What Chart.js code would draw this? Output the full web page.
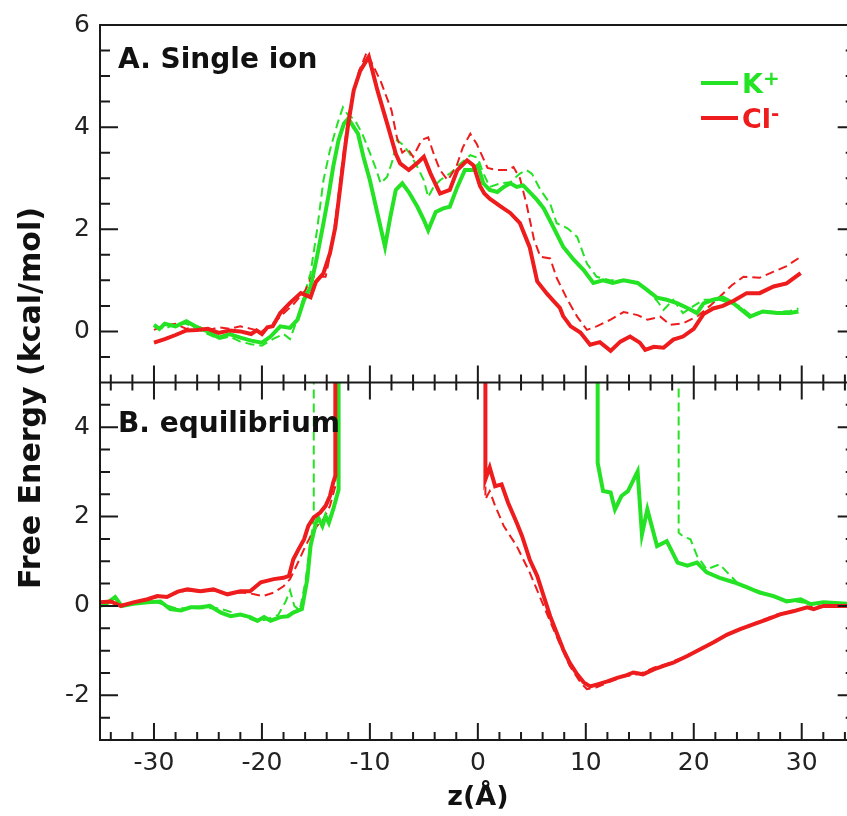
<!DOCTYPE html>
<html>
<head>
<meta charset="utf-8">
<script src="https://cdn.jsdelivr.net/npm/chart.js@4.4.0/dist/chart.umd.min.js"></script>
<style>
  html, body { margin: 0; padding: 0; background: #fff; overflow: hidden; }
  #wrap { width: 847px; height: 816px; overflow: hidden; }
</style>
</head>
<body>
<div id="wrap"><canvas id="chart" width="870" height="816"></canvas></div>
<script>
// shared z axis (Å)
const zMin = -35, zMax = 35;
const zTicks = [-30, -20, -10, 0, 10, 20, 30];

// panel A (single ion) and panel B (equilibrium) energy axes
const aMin = -1, aMax = 6;
const aTicks = [0, 2, 4, 6];
const bMin = -3, bMax = 5;
const bTicks = [-2, 0, 2, 4];

const panelA = 'A. Single ion';
const panelB = 'B. equilibrium';
const yTitle = 'Free Energy (kcal/mol)';
const xTitle = 'z(Å)';

const GREEN = 'rgb(36,226,36)';
const RED = 'rgb(238,28,28)';

// --- panel A: single ion ---
const aClSolidZ = [-30, -29, -28, -27, -26, -25, -24, -23, -22, -21, -20.5, -20, -19.5, -19, -18.3, -17.4, -16.4, -15.5, -15, -14.3, -13.7, -13.2, -12.7, -12.3, -12, -11.5, -10.9, -10.1, -9.3, -8.4, -7.6, -7.2, -6.4, -5.6, -5, -4.4, -3.8, -3.5, -2.6, -1.9, -1, -0.4, 0.2, 0.6, 1.1, 2.1, 3, 3.9, 4.8, 5.5, 6.4, 7, 7.6, 7.9, 8.6, 9.5, 10.4, 11.3, 12.3, 13.2, 14.1, 15, 15.5, 16.3, 17.2, 18.1, 19, 20, 20.9, 21.8, 22.7, 23.7, 24.9, 26.1, 27.4, 28.6, 29.9];
const aClSolidE = [-0.22, -0.15, -0.07, 0.02, 0.03, 0.05, -0.03, 0.02, 0, -0.05, 0.02, -0.05, 0.08, 0.1, 0.36, 0.56, 0.75, 0.67, 0.97, 1.14, 1.53, 2.04, 2.9, 3.6, 4.07, 4.72, 5.1, 5.38, 4.72, 4.07, 3.48, 3.29, 3.16, 3.3, 3.42, 3.1, 2.83, 2.7, 2.77, 3.16, 3.35, 3.25, 2.85, 2.7, 2.6, 2.45, 2.32, 2.12, 1.65, 0.98, 0.74, 0.6, 0.46, 0.3, 0.1, -0.02, -0.26, -0.21, -0.38, -0.2, -0.1, -0.22, -0.36, -0.3, -0.32, -0.16, -0.1, 0.05, 0.34, 0.45, 0.5, 0.6, 0.75, 0.75, 0.88, 0.94, 1.14];

const aClDashZ = [-30, -29, -28, -27, -26, -25, -24, -23, -22, -21, -20, -19, -18, -17, -16, -15.4, -14.1, -13.5, -13, -12.5, -12, -11.5, -11, -10.3, -9, -8, -7.5, -7, -6.5, -6, -5.2, -4.6, -4, -3.5, -2.8, -2, -1.4, -0.7, -0.1, 0.9, 1.8, 2.7, 3.3, 3.9, 4.5, 5.2, 5.8, 6.7, 7.3, 8.3, 9.2, 10.1, 11, 12.3, 13.5, 14.8, 15.7, 16.9, 17.8, 19, 20.3, 21.5, 22.5, 23.5, 24.6, 26.1, 27.4, 28.6, 29.9];
const aClDashE = [0.03, 0.12, 0.15, 0.05, 0.1, 0.02, 0.08, 0.05, 0.1, 0.05, 0, 0.15, 0.35, 0.55, 0.8, 1.07, 1.07, 1.7, 2.5, 3.4, 4.2, 4.7, 5.1, 5.46, 4.9, 4.33, 3.8, 3.5, 3.58, 3.42, 3.75, 3.8, 3.42, 3.16, 2.96, 3.22, 3.6, 3.87, 3.67, 3.2, 3.16, 3.16, 3.22, 3.0, 2.5, 1.8, 1.46, 1.43, 1.05, 0.62, 0.29, 0.03, 0.1, 0.23, 0.38, 0.32, 0.23, 0.29, 0.13, 0.16, 0.29, 0.5, 0.7, 0.9, 1.07, 1.05, 1.17, 1.28, 1.46];

const aKSolidZ = [-30, -29.5, -29, -28, -27, -26, -25, -24, -23, -22, -21, -20, -19.2, -18.3, -17.4, -16.7, -16.1, -15.5, -14.9, -14.3, -13.8, -13.4, -12.9, -12.4, -12, -11.5, -11.1, -10.6, -10, -9.3, -8.6, -8.1, -7.6, -7, -6.4, -5.6, -5, -4.6, -3.9, -3.2, -2.6, -1.9, -1.2, -0.5, 0, 0.5, 1.1, 1.8, 2.4, 3, 3.6, 4.2, 4.8, 5.5, 6.1, 7, 7.9, 8.9, 9.8, 10.7, 11.6, 12.5, 13.5, 14.8, 15.7, 16.6, 17.5, 18.5, 19.4, 20.3, 20.9, 21.8, 22.7, 23.7, 25.2, 26.4, 27.7, 28.9, 29.7];
const aKSolidE = [0.13, 0.05, 0.15, 0.1, 0.2, 0.08, 0, -0.12, -0.05, -0.12, -0.18, -0.22, -0.1, 0.1, 0.07, 0.23, 0.62, 0.87, 1.46, 2.12, 2.7, 3.22, 3.75, 4.07, 4.17, 4.0, 3.87, 3.42, 2.96, 2.31, 1.66, 2.25, 2.77, 2.9, 2.73, 2.44, 2.18, 1.98, 2.34, 2.41, 2.44, 2.83, 3.16, 3.16, 3.25, 2.9, 2.77, 2.73, 2.83, 2.9, 2.83, 2.86, 2.73, 2.57, 2.41, 2.04, 1.66, 1.4, 1.2, 0.95, 1.0, 0.95, 1.0, 0.95, 0.81, 0.66, 0.62, 0.55, 0.46, 0.36, 0.55, 0.62, 0.66, 0.55, 0.29, 0.39, 0.36, 0.36, 0.39];

const aKDashZ = [-30, -29, -28, -27, -26, -25, -24, -23, -22, -21, -20, -19, -18, -17.4, -16.8, -16.1, -15.5, -14.9, -14.3, -13.7, -13, -12.5, -12.1, -11.4, -10.7, -10.1, -9.5, -9, -8.4, -7.9, -7.5, -6.9, -6.3, -5.6, -5, -4.6, -4.1, -3.5, -2.6, -1.6, -0.7, 0, 0.5, 1.1, 2.1, 3, 3.9, 4.5, 5, 5.8, 6.7, 7.3, 8.3, 9.2, 10.1, 11, 12.3, 13.5, 14.8, 15.7, 16.6, 17.2, 18.1, 19, 20, 20.9, 22.4, 24.3, 25.2, 26.5, 27.7, 28.9, 29.7];
const aKDashE = [0.1, 0.05, 0.15, 0.15, 0.05, -0.05, -0.15, -0.1, -0.2, -0.25, -0.28, -0.15, -0.05, -0.15, 0.2, 0.7, 1.14, 1.98, 2.96, 3.55, 4.07, 4.39, 4.26, 4.14, 3.87, 3.55, 3.22, 2.9, 3.03, 3.35, 3.75, 3.65, 3.48, 3.22, 2.96, 2.63, 2.83, 2.96, 3.09, 3.29, 3.45, 3.4, 3.1, 2.83, 2.9, 2.92, 3.09, 3.16, 3.09, 2.77, 2.5, 2.12, 2.02, 1.85, 1.33, 1.07, 1.0, 1.0, 0.95, 0.8, 0.6, 0.42, 0.62, 0.36, 0.5, 0.62, 0.62, 0.49, 0.33, 0.4, 0.38, 0.4, 0.45];

// --- panel B: equilibrium (8 = off the top of the panel, null = gap) ---
const bClSolidZ = [-35, -34, -33.1, -31.9, -30.6, -29.7, -28.8, -27.8, -26.9, -25.7, -24.5, -23.2, -22, -21.1, -20.1, -18.9, -18, -17.5, -17.1, -16.6, -16.1, -15.7, -15.2, -14.6, -14.1, -13.7, -13.4, -13.2, -13.2, -6, 0.7, 0.7, 1.1, 1.6, 2.2, 2.8, 3.6, 4.1, 4.8, 5.5, 6.1, 6.7, 7.3, 7.9, 8.5, 9.2, 9.8, 10.4, 11, 12, 12.9, 13.8, 14.4, 15.3, 16.3, 17.2, 18.1, 19.4, 20.6, 21.8, 23.1, 24.3, 25.5, 26.8, 28, 29.2, 30.5, 31.1, 32, 35];
const bClSolidE = [0.08, 0.1, 0, 0.08, 0.15, 0.22, 0.2, 0.32, 0.37, 0.33, 0.37, 0.26, 0.33, 0.33, 0.53, 0.6, 0.63, 0.67, 1.04, 1.27, 1.49, 1.79, 1.98, 2.09, 2.24, 2.46, 2.76, 2.91, 8, null, 8, 2.83, 3.1, 2.68, 2.72, 2.31, 1.86, 1.56, 1.04, 0.67, 0.22, -0.23, -0.6, -0.97, -1.27, -1.53, -1.71, -1.8, -1.76, -1.69, -1.61, -1.55, -1.49, -1.53, -1.42, -1.34, -1.27, -1.12, -0.97, -0.82, -0.64, -0.52, -0.41, -0.3, -0.19, -0.12, -0.03, -0.07, 0, 0];

const bClDashZ = [-35, -34, -33.1, -31.9, -30.6, -29.7, -28.8, -27.8, -26.9, -25.7, -24.5, -23.2, -22, -21.1, -20.5, -19.9, -18.9, -18, -17.4, -16.8, -16.1, -15.5, -14.9, -14.3, -13.7, -13.2, -13.2, -6, 0.7, 0.7, 1.1, 1.6, 2.4, 3.6, 4.8, 6.1, 7, 8.5, 9.5, 10.1, 11, 12, 13.5, 15, 16.3, 17.5, 19, 20.6, 22, 23.5, 25, 26.5, 27.7, 29, 30.5, 32, 35];
const bClDashE = [0.06, 0.08, 0.02, 0.06, 0.14, 0.2, 0.22, 0.3, 0.35, 0.32, 0.35, 0.27, 0.3, 0.28, 0.25, 0.22, 0.3, 0.44, 0.6, 0.9, 1.27, 1.56, 1.79, 1.94, 2.24, 2.68, 8, null, 8, 2.39, 2.57, 2.24, 1.79, 1.34, 0.75, 0, -0.52, -1.34, -1.71, -1.86, -1.82, -1.72, -1.58, -1.52, -1.38, -1.3, -1.15, -0.97, -0.8, -0.6, -0.45, -0.3, -0.19, -0.12, -0.03, 0, 0];

const bKSolidZ = [-35, -34.4, -33.6, -33, -31.9, -30.6, -29.4, -28.5, -27.5, -26.6, -25.7, -24.8, -23.8, -22.9, -22, -21.1, -20.4, -19.8, -19.2, -18.3, -17.6, -17.1, -16.3, -15.8, -15.5, -15, -14.8, -14.4, -14.1, -13.8, -13.4, -12.9, -12.9, 0, 11.1, 11.1, 11.6, 12.3, 12.7, 13.3, 13.9, 14.8, 15.2, 15.7, 16.6, 17.5, 18.5, 19.4, 20.3, 21.2, 22.4, 23.7, 24.9, 26.1, 27.4, 28.6, 29.9, 30.8, 32, 35];
const bKSolidE = [0, 0.05, 0.2, 0, 0.05, 0.08, 0.1, -0.07, -0.1, -0.03, -0.03, 0, -0.15, -0.23, -0.19, -0.25, -0.33, -0.25, -0.33, -0.25, -0.23, -0.15, -0.07, 0.6, 1.34, 1.86, 1.98, 1.79, 2.01, 1.86, 2.16, 2.6, 8, null, 8, 3.2, 2.57, 2.54, 2.16, 2.46, 2.57, 3.01, 1.6, 2.16, 1.34, 1.45, 0.97, 0.9, 0.97, 0.75, 0.63, 0.53, 0.42, 0.3, 0.22, 0.1, 0.15, 0.04, 0.08, 0.04];

const bKDashZ = [-35, -34, -33, -32, -30, -28, -26, -24, -22, -20.5, -19.5, -18.5, -17.8, -17.4, -17, -16.5, -16, -15.5, -15.2, -15.2, 0, 18.6, 18.6, 19, 19.7, 20.3, 21.2, 22.4, 23.1, 24.3, 25.5, 26.8, 28, 29.5, 30.8, 32, 35];
const bKDashE = [0.02, 0.1, 0, 0.05, 0.1, -0.05, -0.05, -0.05, -0.2, -0.35, -0.3, -0.2, 0.1, 0.35, 0, -0.1, 0.5, 1.4, 1.95, 8, null, 8, 1.64, 1.56, 1.49, 1.12, 0.82, 0.93, 0.75, 0.45, 0.38, 0.25, 0.15, 0.1, 0.05, 0.05, 0.04];

function pts(z, e) {
    return z.map((v, i) => ({ x: v, y: e[i] }));
}

function line(data, axis, color, dashed, order) {
    return {
        data: data,
        yAxisID: axis,
        borderColor: color,
        borderWidth: dashed ? 2 : 4,
        borderDash: dashed ? [9, 5] : [],
        pointRadius: 0,
        tension: 0,
        fill: false,
        spanGaps: false,
        order: order
    };
}

// keep each panel's curves inside its own panel
const panelClip = {
    id: 'panelClip',
    beforeDatasetDraw(chart, args) {
        const m = args.meta;
        const ctx = chart.ctx;
        ctx.save();
        ctx.beginPath();
        ctx.rect(m.xScale.left, m.yScale.top, m.xScale.right - m.xScale.left, m.yScale.bottom - m.yScale.top);
        ctx.clip();
    },
    afterDatasetDraw(chart) {
        chart.ctx.restore();
    }
};

// frame with inward ticks, panel labels, y title and legend
const frame = {
    id: 'frame',
    afterDraw(chart) {
        const ctx = chart.ctx;
        const x = chart.scales.x, a = chart.scales.yA, b = chart.scales.yB;
        const L = x.left, R = x.right;
        ctx.save();
        ctx.strokeStyle = '#1a1a1a';
        ctx.lineWidth = 2;
        ctx.strokeRect(L, a.top, R - L, b.bottom - a.top);
        ctx.beginPath();
        ctx.moveTo(L, a.bottom);
        ctx.lineTo(R, a.bottom);
        // z ticks on the shared border and on the bottom border
        for (let v = -34; v <= 34; v += 2) {
            const px = x.getPixelForValue(v);
            const len = v % 10 === 0 ? 17 : 8;
            ctx.moveTo(px, a.bottom - len);
            ctx.lineTo(px, a.bottom + len);
            ctx.moveTo(px, b.bottom);
            ctx.lineTo(px, b.bottom - len);
        }
        // energy ticks on left and right borders
        [[a, -0.5, 5.5], [b, -2.5, 4.5]].forEach(([s, lo, hi]) => {
            for (let v = lo; v <= hi + 1e-9; v += 0.5) {
                const py = s.getPixelForValue(v);
                const len = Math.abs(v % 2) < 1e-9 ? 18 : 10;
                ctx.moveTo(L, py);
                ctx.lineTo(L + len, py);
                ctx.moveTo(R, py);
                ctx.lineTo(R - len, py);
            }
        });
        ctx.stroke();

        // panel labels
        ctx.fillStyle = '#111';
        ctx.font = 'bold 28px "DejaVu Sans"';
        ctx.textAlign = 'left';
        ctx.textBaseline = 'alphabetic';
        ctx.fillText(panelA, L + 18, a.top + 43);
        ctx.fillText(panelB, L + 18, b.top + 49);

        // y title
        ctx.save();
        ctx.translate(40, 398);
        ctx.rotate(-Math.PI / 2);
        ctx.textAlign = 'center';
        ctx.font = 'bold 30px "DejaVu Sans"';
        ctx.fillText(yTitle, 0, 0);
        ctx.restore();

        // legend
        const items = [['K', '+', GREEN, 83], ['Cl', '-', RED, 118]];
        items.forEach(([name, sup, color, y]) => {
            ctx.strokeStyle = color;
            ctx.lineWidth = 4;
            ctx.beginPath();
            ctx.moveTo(701, y);
            ctx.lineTo(738, y);
            ctx.stroke();
            ctx.fillStyle = color;
            ctx.font = 'bold 27px "DejaVu Sans"';
            ctx.fillText(name, 742, y + 10);
            const w = ctx.measureText(name).width;
            ctx.font = 'bold 20px "DejaVu Sans"';
            ctx.fillText(sup, 742 + w, y + 2);
        });
        ctx.restore();
    }
};

const tickFont = { family: 'DejaVu Sans', size: 25 };

function yScale(min, max, ticks) {
    return {
        type: 'linear',
        position: 'left',
        stack: 'panels',
        stackWeight: 1,
        min: min,
        max: max,
        grid: { display: false, drawTicks: false },
        border: { display: false },
        afterBuildTicks: s => { s.ticks = ticks.map(v => ({ value: v })); },
        afterFit: s => { s.width = 100; },
        ticks: { padding: 10, font: tickFont, color: '#222', autoSkip: false }
    };
}

new Chart(document.getElementById('chart'), {
    type: 'line',
    data: {
        datasets: [
            line(pts(aClSolidZ, aClSolidE), 'yA', RED, false, 0),
            line(pts(aKSolidZ, aKSolidE), 'yA', GREEN, false, 1),
            line(pts(aClDashZ, aClDashE), 'yA', RED, true, 2),
            line(pts(aKDashZ, aKDashE), 'yA', GREEN, true, 3),
            line(pts(bClSolidZ, bClSolidE), 'yB', RED, false, 0),
            line(pts(bKSolidZ, bKSolidE), 'yB', GREEN, false, 1),
            line(pts(bClDashZ, bClDashE), 'yB', RED, true, 2),
            line(pts(bKDashZ, bKDashE), 'yB', GREEN, true, 3)
        ]
    },
    options: {
        responsive: false,
        animation: false,
        layout: { padding: { top: 25, right: 14.3, left: 0, bottom: 0 } },
        plugins: { legend: { display: false }, tooltip: { enabled: false } },
        scales: {
            x: {
                type: 'linear',
                min: zMin,
                max: zMax,
                grid: { display: false, drawTicks: false },
                border: { display: false },
                afterBuildTicks: s => { s.ticks = zTicks.map(v => ({ value: v })); },
                afterFit: s => { s.height = 76; },
                ticks: { padding: 8, font: tickFont, color: '#222', maxRotation: 0, autoSkip: false },
                title: {
                    display: true,
                    text: xTitle,
                    color: '#111',
                    font: { family: 'DejaVu Sans', size: 27, weight: 'bold' },
                    padding: { top: 0, bottom: 2 }
                }
            },
            yB: yScale(bMin, bMax, bTicks),
            yA: yScale(aMin, aMax, aTicks)
        }
    },
    plugins: [panelClip, frame]
});
</script>
</body>
</html>
